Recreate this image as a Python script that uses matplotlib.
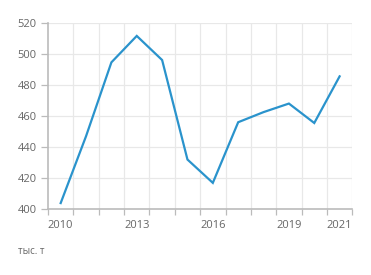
import matplotlib
matplotlib.use("Agg")
import matplotlib.pyplot as plt
import numpy as np

years = list(range(2010, 2022))
values = [404, 447, 494.5, 511.5, 496, 432, 417, 456, 462.5, 468, 455.5, 485.5]
xtick_labels = ["2010", "2013", "2016", "2019", "2021"]
yticks = [400, 420, 440, 460, 480, 500, 520]
unit_label = "тыс. т"

plt.rcParams['font.family'] = ['Open Sans', 'DejaVu Sans']

fig = plt.figure(figsize=(3.71, 2.75), dpi=100)
ax = fig.add_axes([48/371, 1 - 209.3/275, (352.3-48)/371, (209.3-22.7)/275])

n = len(years)
xs = np.arange(n) + 0.5
ax.plot(xs, values, color="#2a93cc", lw=1.6, solid_joinstyle="miter", zorder=3)

ax.set_xlim(0, n)
ax.set_ylim(400, 520)

# gridlines at band boundaries
for b in range(1, n + 1):
    ax.axvline(b, color="#e8e8e8", lw=0.9, zorder=1)
for y in yticks[1:]:
    ax.axhline(y, color="#e8e8e8", lw=0.9, zorder=1)

ax.set_yticks(yticks)
ax.set_yticklabels([str(v) for v in yticks])
ax.set_xticks(range(0, n + 1), minor=False)
ax.set_xticklabels([""] * (n + 1))
label_pos = [xs[years.index(int(t))] for t in xtick_labels]
ax.set_xticks(label_pos, minor=True)
ax.set_xticklabels(xtick_labels, minor=True)
ax.tick_params(axis="x", which="minor", length=0, pad=8, labelsize=8, labelcolor="#666666")
ax.tick_params(axis="x", which="major", length=4, color="#bbbbbb", width=0.9)
ax.tick_params(axis="y", length=5, color="#bbbbbb", width=0.9, pad=3, labelsize=8, labelcolor="#666666")

for s in ["top", "right"]:
    ax.spines[s].set_visible(False)
ax.spines["left"].set_color("#bbbbbb")
ax.spines["left"].set_linewidth(1.2)
ax.spines["bottom"].set_color("#bbbbbb")
ax.spines["bottom"].set_linewidth(1.2)

fig.text(18/371, 1 - 251/275, unit_label, fontsize=7, color="#666666", va="center", ha="left")

fig.savefig("out.png", dpi=100)
